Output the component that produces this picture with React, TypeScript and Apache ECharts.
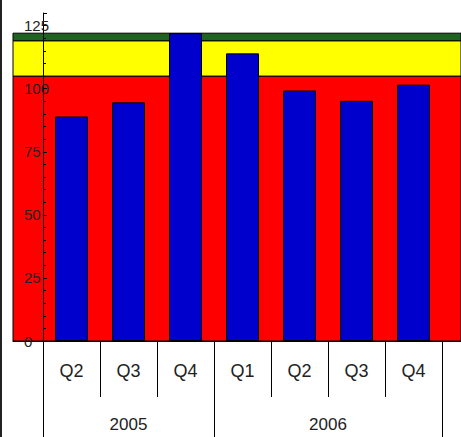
import React, { useEffect, useRef } from "react";
import * as echarts from "echarts";

const quarters = ["Q2", "Q3", "Q4", "Q1", "Q2", "Q3", "Q4"];
const values = [89, 94.6, 122, 114, 99.3, 95.2, 101.6];
const years = ["2005", "2006"];
const yearSpans = [3, 4];
const bandLimits = [0, 105, 119, 122];
const bandColors = ["#ff0000", "#ffff00", "#1e6420"];
const yMin = 0;
const yMax = 130;
const yInterval = 25;

export default function App() {
  const ref = useRef<HTMLDivElement>(null);
  useEffect(() => {
    if (!ref.current) return;
    const chart = echarts.init(ref.current, null, { renderer: "svg" });

    const boundaries: number[] = [0];
    yearSpans.forEach((s) => boundaries.push(boundaries[boundaries.length - 1] + s));
    const centers = yearSpans.map((s, i) => boundaries[i] + s / 2);

    const font = "'Liberation Sans', Arial, sans-serif";

    chart.setOption({
      animation: false,
      grid: [
        { left: 43, right: 19, top: 13, bottom: 96 },
        { left: 13, right: -5, top: 13, bottom: 96 },
      ],
      xAxis: [
        {
          type: "category",
          gridIndex: 0,
          data: quarters,
          position: "bottom",
          z: 5,
          axisLine: { show: false },
          axisTick: { show: true, length: 56, lineStyle: { color: "#000", width: 1 } },
          axisLabel: { margin: 21, fontSize: 18, color: "#222", fontFamily: font },
          splitLine: { show: false },
        },
        {
          type: "value",
          gridIndex: 0,
          position: "bottom",
          min: 0,
          max: boundaries[boundaries.length - 1],
          z: 5,
          axisLine: { show: false },
          axisTick: {
            show: true,
            length: 100,
            customValues: boundaries,
            lineStyle: { color: "#000", width: 1 },
          },
          axisLabel: {
            customValues: centers,
            margin: 75,
            fontSize: 17,
            color: "#222",
            fontFamily: font,
            formatter: (v: number) => {
              const i = centers.findIndex((c) => Math.abs(c - v) < 1e-6);
              return i >= 0 ? years[i] : "";
            },
          },
          splitLine: { show: false },
        },
        {
          type: "value",
          gridIndex: 1,
          min: 0,
          max: 1,
          z: 6,
          axisLine: { show: true, lineStyle: { color: "#000", width: 1 } },
          axisTick: { show: false },
          axisLabel: { show: false },
          splitLine: { show: false },
        },
      ],
      yAxis: [
        {
          type: "value",
          gridIndex: 0,
          min: yMin,
          max: yMax,
          interval: yInterval,
          offset: 30,
          z: 6,
          axisLine: { show: true, lineStyle: { color: "#000", width: 1 } },
          axisTick: { show: true, inside: true, length: 4, lineStyle: { color: "#000" } },
          minorTick: { show: true, splitNumber: 5, length: 3, lineStyle: { color: "#000" } },
          axisLabel: {
            inside: true,
            margin: 11,
            fontSize: 15,
            color: "#222",
            fontFamily: font,
            showMaxLabel: false,
          },
          splitLine: { show: false },
        },
        {
          type: "value",
          gridIndex: 1,
          min: yMin,
          max: yMax,
          show: false,
        },
      ],
      series: [
        {
          type: "line",
          xAxisIndex: 2,
          yAxisIndex: 1,
          data: [],
          z: 1,
          silent: true,
          markArea: {
            silent: true,
            data: bandColors.map((c, i) => [
              {
                xAxis: 0,
                yAxis: bandLimits[i],
                itemStyle: { color: c, borderColor: "#000", borderWidth: 1 },
              },
              { xAxis: 1, yAxis: bandLimits[i + 1] },
            ]),
          },
        },
        {
          type: "bar",
          xAxisIndex: 0,
          yAxisIndex: 0,
          data: values,
          barWidth: 33,
          z: 3,
          itemStyle: { color: "#0000cc", borderColor: "#000", borderWidth: 1 },
        },
      ],
      graphic: [
        {
          type: "rect",
          shape: { x: 0, y: 0, width: 2, height: 437 },
          style: { fill: "#222" },
        },
      ],
    });

    return () => chart.dispose();
  }, []);

  return (
    <div
      ref={ref}
      style={{ position: "fixed", left: 0, top: 0, width: 461, height: 437, background: "#fff" }}
    />
  );
}
